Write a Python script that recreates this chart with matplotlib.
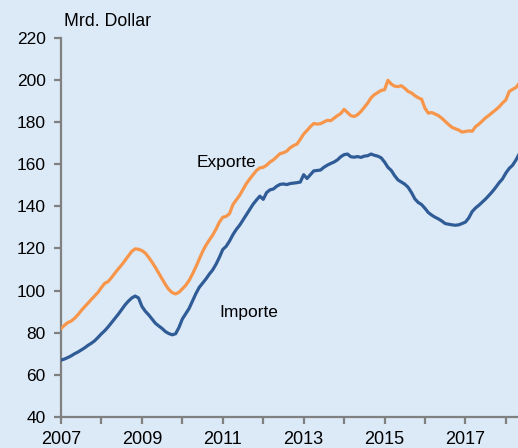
import matplotlib
matplotlib.use("Agg")
import matplotlib.pyplot as plt
import numpy as np
from matplotlib.ticker import FixedLocator

plt.rcParams['font.family'] = ['Liberation Sans', 'DejaVu Sans']

start_year = 2007
exports = [
    # 2007
    82.0, 83.5, 84.8, 85.5, 86.8, 88.5, 90.5, 92.3, 94.0, 95.8, 97.5, 99.2,
    # 2008
    101.5, 103.5, 104.3, 106.2, 108.3, 110.3, 112.2, 114.3, 116.5, 118.6, 119.8, 119.6,
    # 2009
    119.0, 117.8, 115.8, 113.5, 111.0, 108.3, 105.5, 102.8, 100.5, 99.0, 98.4, 99.2,
    # 2010
    100.8, 102.5, 104.8, 107.8, 111.2, 114.8, 118.5, 121.5, 124.0, 126.3, 129.2, 132.5,
    # 2011
    134.8, 135.2, 136.5, 140.8, 143.0, 145.2, 148.0, 150.8, 153.0, 155.0, 157.0, 158.2,
    # 2012
    158.5, 159.5, 161.0, 162.0, 163.5, 165.0, 165.4, 166.2, 167.8, 168.8, 169.5, 171.8,
    # 2013
    174.3, 176.0, 177.8, 179.3, 179.0, 179.2, 180.0, 180.8, 180.6, 181.8, 183.0, 184.0,
    # 2014
    186.0, 184.5, 183.0, 182.6, 183.5, 185.0, 187.0, 189.0, 191.5, 193.0, 194.0, 195.0,
    # 2015
    195.3, 199.8, 198.0, 197.0, 196.8, 197.2, 196.0, 194.5, 193.8, 192.5, 191.5, 190.8,
    # 2016
    186.5, 184.2, 184.5, 183.8, 183.0, 181.8, 180.3, 178.8, 177.5, 176.8, 176.2, 175.2,
    # 2017
    175.5, 175.8, 175.6, 177.8, 179.0, 180.5, 182.0, 183.2, 184.5, 185.8, 187.2, 189.0,
    # 2018
    190.5, 194.5, 195.5, 196.4, 198.5,
]
imports = [
    # 2007
    67.0, 67.5, 68.2, 69.0, 70.0, 70.8, 71.8, 72.8, 74.0, 75.0, 76.2, 77.8,
    # 2008
    79.5, 81.0, 82.8, 84.8, 86.8, 88.8, 91.0, 93.2, 95.0, 96.5, 97.4, 96.5,
    # 2009
    92.5, 90.2, 88.5, 86.5, 84.5, 83.2, 82.0, 80.5, 79.6, 79.0, 79.5, 82.5,
    # 2010
    86.5, 89.0, 91.5, 95.0, 98.5, 101.5, 103.5, 105.5, 107.8, 109.8, 112.5, 115.8,
    # 2011
    119.5, 121.0, 123.5, 126.5, 129.0, 131.0, 133.5, 136.0, 138.5, 141.0, 143.0, 144.8,
    # 2012
    143.3, 146.5, 147.8, 148.2, 149.5, 150.4, 150.6, 150.3, 150.8, 151.0, 151.2, 151.5,
    # 2013
    155.0, 153.2, 155.0, 156.8, 157.0, 157.2, 158.5, 159.5, 160.3, 161.0, 162.0, 163.5,
    # 2014
    164.5, 164.8, 163.5, 163.3, 163.6, 163.2, 163.8, 164.0, 164.8, 164.2, 163.8, 163.0,
    # 2015
    161.0, 158.5, 157.0, 154.5, 152.5, 151.5, 150.5, 149.0, 146.5, 143.5, 141.8, 140.8,
    # 2016
    139.0, 137.0, 135.8, 134.8, 134.0, 133.0, 131.8, 131.5, 131.2, 131.0, 131.2, 131.8,
    # 2017
    132.5, 134.5, 137.5, 139.2, 140.5, 142.0, 143.5, 145.2, 147.0, 149.0, 151.2, 153.0,
    # 2018
    155.8, 158.0, 159.5, 162.0, 165.0,
]
x_years = [start_year + i / 12 for i in range(len(exports))]

y_ticks = [40, 60, 80, 100, 120, 140, 160, 180, 200, 220]
x_major = [2007, 2009, 2011, 2013, 2015, 2017]
x_minor = [2008, 2010, 2012, 2014, 2016, 2018]

bg = '#dce9f7'
grey = '#808080'
fig = plt.figure(figsize=(5.18, 4.48), dpi=100, facecolor=bg)
ax = fig.add_axes([0.1178, 0.0692, 0.8822, 0.8466], facecolor=bg)

ax.plot(x_years, exports, color='#f7964a', lw=2.3, solid_capstyle='round', zorder=3)
ax.plot(x_years, imports, color='#2f5c96', lw=2.3, solid_capstyle='round', zorder=3)

ax.set_xlim(2007, 2018.3)
ax.set_ylim(40, 220)
ax.yaxis.set_major_locator(FixedLocator(y_ticks))
ax.xaxis.set_major_locator(FixedLocator(x_major))
ax.xaxis.set_minor_locator(FixedLocator(x_minor))
ax.set_xticklabels([str(v) for v in x_major])

for s in ['top', 'right']:
    ax.spines[s].set_visible(False)
for s in ['left', 'bottom']:
    ax.spines[s].set_color(grey)
    ax.spines[s].set_linewidth(1.6)

ax.tick_params(axis='both', which='both', direction='out', length=5, width=1.6,
               color=grey, labelsize=12.5, labelcolor='black')
ax.tick_params(axis='y', pad=6)
ax.tick_params(axis='x', pad=5)
for lab in ax.get_xticklabels():
    lab.set_family(['Liberation Sans Narrow', 'Liberation Sans', 'DejaVu Sans'])
    lab.set_fontsize(13)

ax.text(2010.36, 160.6, 'Exporte', fontsize=12.5, ha='left', va='center')
ax.text(2010.91, 89.4, 'Importe', fontsize=12.5, ha='left', va='center')
fig.text(64 / 518, 1 - 22 / 448, 'Mrd. Dollar', fontsize=12.8, ha='left', va='center')

fig.savefig('out.png', dpi=100, facecolor=bg)
